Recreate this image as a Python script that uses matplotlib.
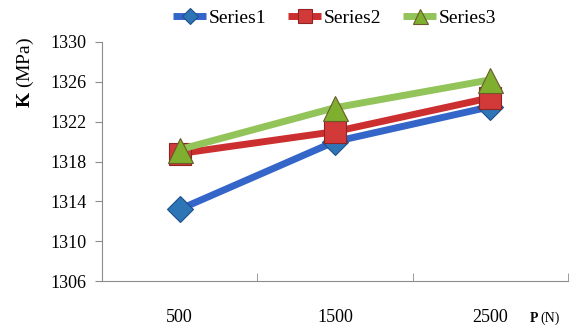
import matplotlib.pyplot as plt

categorias = ["500", "1500", "2500"]
serie1 = [1313.2, 1320.0, 1323.5]
serie2 = [1318.8, 1321.0, 1324.4]
serie3 = [1319.2, 1323.4, 1326.2]
nombres = ["Series1", "Series2", "Series3"]
yticks = [1306, 1310, 1314, 1318, 1322, 1326, 1330]

plt.rcParams["font.family"] = ["Liberation Serif", "DejaVu Serif"]
plt.rcParams["mathtext.fontset"] = "custom"
plt.rcParams["mathtext.rm"] = "Liberation Serif"
plt.rcParams["mathtext.bf"] = "Liberation Serif:bold"

fig = plt.figure(figsize=(5.72, 3.28), dpi=100)
ax = fig.add_axes([0.178, 0.143, 0.815, 0.729])

# color de línea, marcador, relleno, borde, tamaño
estilos = [
    ("#3465C8", "D", "#2E75B6", "#1F4E8C", 13),
    ("#CC2F2F", "s", "#D23A3A", "#8E2424", 16),
    ("#92C45A", "^", "#7FAF2E", "#6B5A2A", 18),
]
x = range(len(categorias))
for serie, nombre, (color, marca, relleno, borde, tam) in zip([serie1, serie2, serie3], nombres, estilos):
    ax.plot(x, serie, color=color, linewidth=5, marker=marca, markersize=tam,
            markerfacecolor=relleno, markeredgecolor=borde,
            markeredgewidth=0.8, label=nombre, solid_capstyle="butt")

ax.set_xlim(-0.5, len(categorias) - 0.5)
ax.set_ylim(1306, 1330)
ax.set_yticks(yticks)
ax.set_xticks(list(x))
ax.set_xticklabels(categorias)
ax.set_xticks([i - 0.5 for i in range(len(categorias) + 1)], minor=True)
ax.tick_params(axis="x", which="major", length=0, pad=20, labelsize=13)
ax.tick_params(axis="x", which="minor", length=6, color="#8C8C8C", direction="in")
ax.tick_params(axis="y", length=5, color="#8C8C8C", labelsize=13, pad=6)

for lado in ["top", "right"]:
    ax.spines[lado].set_visible(False)
for lado in ["left", "bottom"]:
    ax.spines[lado].set_color("#8C8C8C")

fig.text(0.045, 0.78, r"$\mathbf{K}$ (MPa)", rotation=90, ha="center", va="center", fontsize=14)
fig.text(0.925, 0.008, r"$\mathbf{P}$", ha="left", va="bottom", fontsize=10)
fig.text(0.944, 0.008, "(N)", ha="left", va="bottom", fontsize=10)

ax.legend(loc="upper center", bbox_to_anchor=(0.5, 1.21), ncol=3, frameon=False,
          fontsize=14, handlelength=1.7, columnspacing=1.1, handletextpad=0.15,
          markerscale=0.6)

fig.savefig("out.png", dpi=100)
